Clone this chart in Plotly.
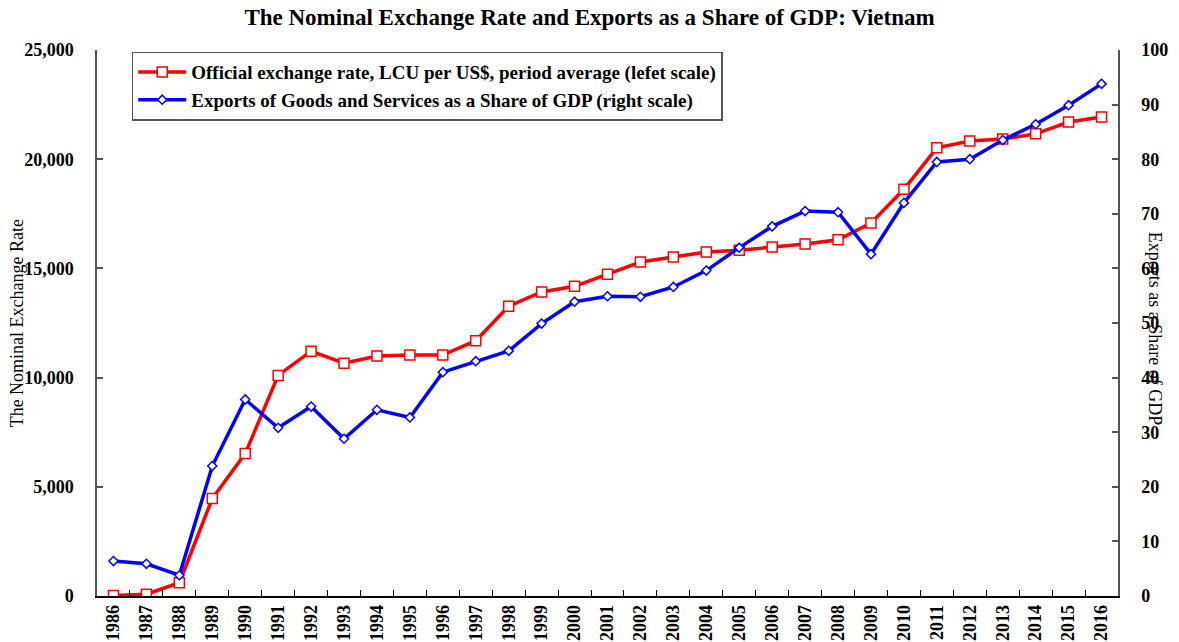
import plotly.graph_objects as go

years = [str(y) for y in range(1986, 2017)]
exchange_rate = [18, 79, 607, 4464, 6520, 10100, 11210, 10660, 10990, 11035, 11035, 11690,
                 13270, 13920, 14180, 14730, 15290, 15520, 15750, 15830, 15980, 16117,
                 16310, 17075, 18620, 20520, 20830, 20925, 21160, 21700, 21935]
exports_share = [6.4, 5.9, 3.8, 23.8, 36.0, 30.8, 34.7, 28.8, 34.1, 32.7, 41.0, 43.0,
                 44.9, 49.9, 53.9, 54.9, 54.8, 56.6, 59.6, 63.8, 67.7, 70.5,
                 70.3, 62.6, 72.0, 79.5, 80.0, 83.5, 86.4, 89.9, 93.8]

FONT = "Liberation Serif"
AXC = "#555555"

fig = go.Figure()
fig.add_trace(go.Scatter(
    x=years, y=exchange_rate, mode="lines+markers",
    name="<b>Official exchange rate, LCU per US$, period average (lefet scale)</b>",
    line=dict(color="#ff0000", width=3.5),
    marker=dict(symbol="square", size=10, color="white", line=dict(color="#ff0000", width=1.5)),
    yaxis="y"))
fig.add_trace(go.Scatter(
    x=years, y=exports_share, mode="lines+markers",
    name="<b>Exports of Goods and Services as a Share of GDP (right scale)</b>",
    line=dict(color="#0000ff", width=3.5),
    marker=dict(symbol="diamond", size=7, color="white", line=dict(color="#0000ff", width=1.5)),
    yaxis="y2"))

fig.update_layout(
    width=1179, height=642,
    margin=dict(l=97, r=61, t=50, b=46, autoexpand=False),
    paper_bgcolor="white", plot_bgcolor="white",
    font=dict(family=FONT, color="black", size=17),
    title=dict(text="<b>The Nominal Exchange Rate and Exports as a Share of GDP: Vietnam</b>",
               x=0.5, xanchor="center", y=0.973, yanchor="middle",
               font=dict(family=FONT, size=23, color="black")),
    showlegend=True,
    legend=dict(x=0.034, y=0.997, xanchor="left", yanchor="top",
                bgcolor="white", bordercolor=AXC, borderwidth=1.5,
                font=dict(family=FONT, size=19, color="black"),
                itemwidth=48, tracegroupgap=0),
    xaxis=dict(type="category", range=[-0.5, 30.5], tickson="boundaries",
               ticks="inside", ticklen=6, tickcolor="black", tickwidth=1.2,
               showline=True, linecolor="black", linewidth=1.5,
               showgrid=False, zeroline=False, tickangle=-90, automargin=False,
               tickfont=dict(family=FONT, size=18, color="black"),
               tickprefix="<b>", ticksuffix="</b>"),
    yaxis=dict(range=[0, 25000], dtick=5000, tickformat=",", automargin=False,
               ticks="inside", ticklen=6, tickcolor=AXC, tickwidth=1.5,
               showline=True, linecolor=AXC, linewidth=1.5,
               showgrid=False, zeroline=False, ticklabelstandoff=18,
               tickfont=dict(family=FONT, size=18, color="black"),
               tickprefix="<b>", ticksuffix="</b>"),
    yaxis2=dict(range=[0, 100], dtick=10, overlaying="y", side="right", automargin=False,
                ticks="inside", ticklen=6, tickcolor=AXC, tickwidth=1.5,
                showline=True, linecolor=AXC, linewidth=1.5,
                showgrid=False, zeroline=False, ticklabelstandoff=18,
                tickfont=dict(family=FONT, size=18, color="black"),
                tickprefix="<b>", ticksuffix="</b>"),
    annotations=[
        dict(text="The Nominal Exchange Rate", xref="paper", yref="paper",
             x=-0.078, y=0.5, xanchor="center", yanchor="middle", textangle=-90,
             showarrow=False, font=dict(family=FONT, size=18, color="black")),
        dict(text="Exports as a Share of GDP", xref="paper", yref="paper",
             x=1.036, y=0.49, xanchor="center", yanchor="middle", textangle=90,
             showarrow=False, font=dict(family=FONT, size=18, color="black")),
    ],
)

fig.write_html("out.html", config={"displayModeBar": False},
               post_script="document.body.style.margin='0px';document.body.style.overflow='hidden';")
